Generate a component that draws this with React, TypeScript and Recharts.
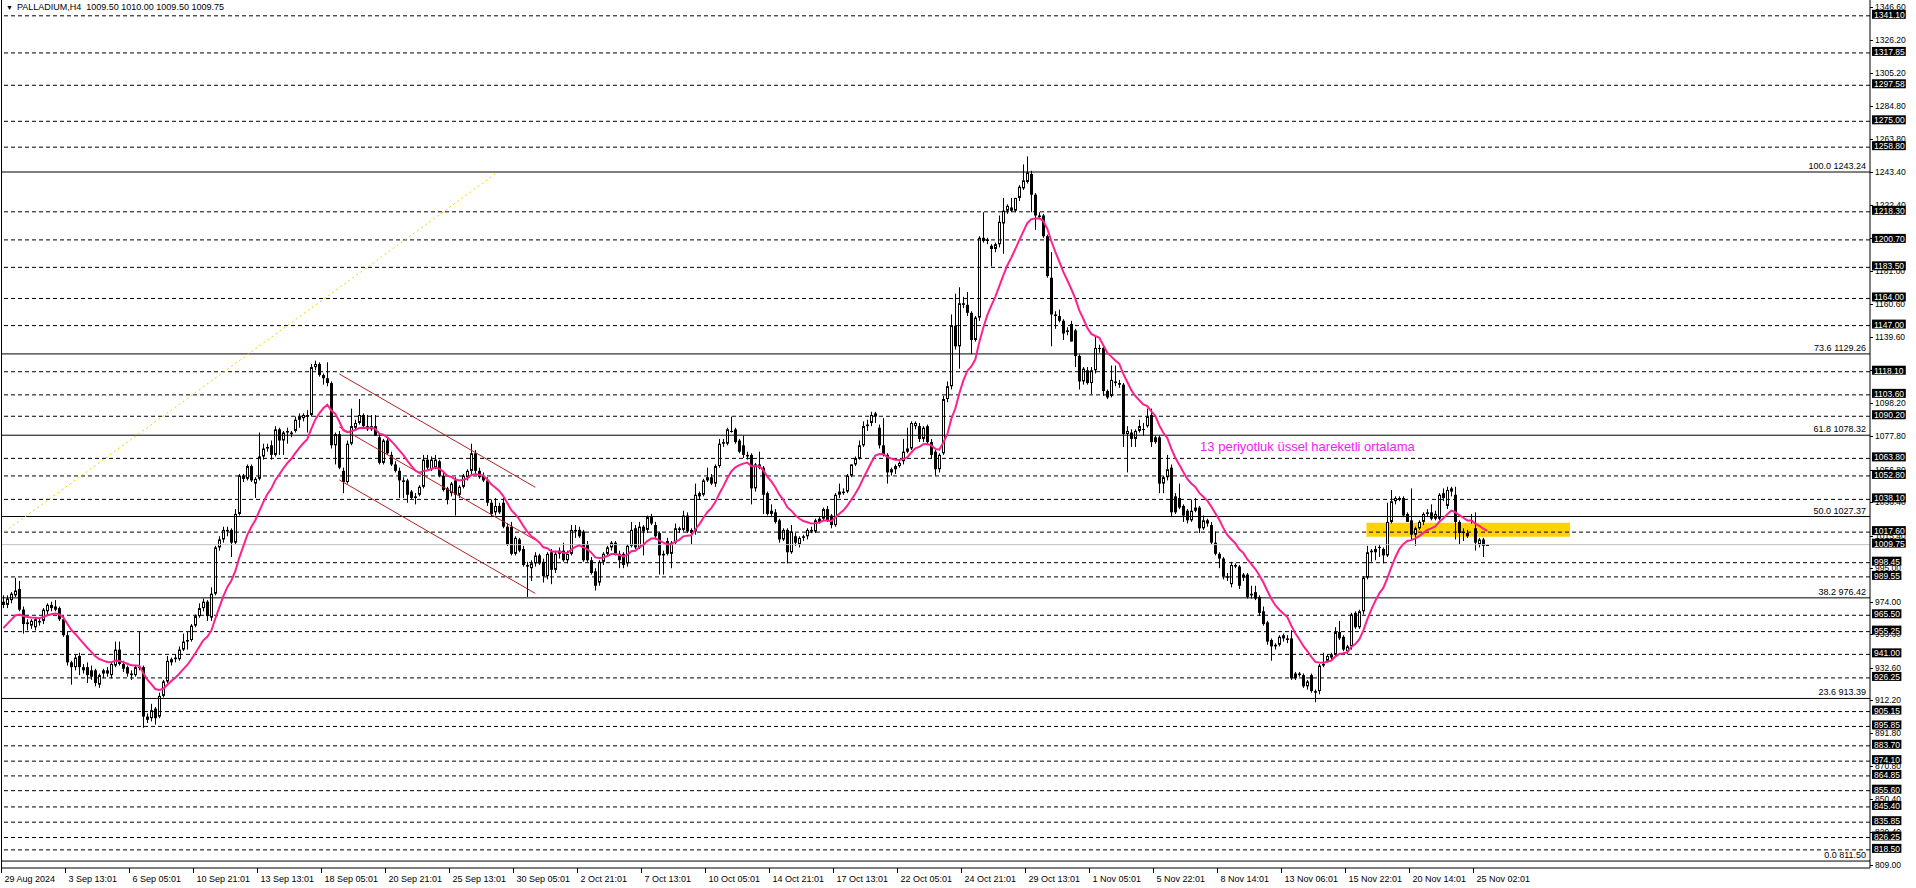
import {
  ComposedChart,
  Bar,
  Line,
  XAxis,
  YAxis,
  ReferenceLine,
  ReferenceArea,
  ReferenceDot,
} from 'recharts';

type Candle = [number, number, number, number]; // open, high, low, close

// bars 0-94 (29 Aug - 20 Sep)
const barsAugSep: Candle[] = [
  [974, 978, 970, 972], [972, 978, 970, 976], [975, 980, 973, 979], [978, 989, 977, 981], [982, 987, 968, 969], [969, 971, 954, 960],
  [960, 963, 956, 961], [959, 963, 957, 962], [958, 964, 956, 963], [961, 964, 959, 962], [962, 970, 960, 969], [968, 973, 966, 972],
  [972, 974, 968, 970], [971, 975, 968, 969], [970, 971, 962, 963], [963, 965, 952, 953], [953, 955, 934, 936], [936, 937, 922, 933],
  [933, 941, 931, 939], [940, 942, 928, 933], [933, 935, 929, 931], [933, 936, 923, 928], [931, 934, 925, 927], [931, 932, 921, 923],
  [922, 929, 920, 928], [929, 932, 926, 931], [929, 933, 927, 931], [928, 936, 926, 935], [934, 949, 933, 944], [944, 949, 934, 935],
  [935, 937, 930, 932], [933, 934, 927, 929], [929, 931, 925, 928], [928, 934, 927, 933], [933, 955, 931, 933], [933, 934, 895, 902],
  [902, 904, 898, 900], [901, 910, 899, 906], [907, 908, 897, 901], [902, 917, 901, 915], [915, 925, 914, 924], [924, 940, 923, 937],
  [936, 939, 934, 938], [938, 941, 936, 939], [938, 946, 937, 944], [944, 954, 943, 949], [949, 955, 944, 950], [950, 960, 949, 959],
  [959, 966, 958, 965], [965, 973, 964, 970], [970, 976, 968, 974], [974, 975, 962, 965], [964, 983, 962, 979], [979, 1009, 978, 1008],
  [1008, 1015, 1006, 1013], [1013, 1021, 1011, 1019], [1019, 1021, 1015, 1018], [1019, 1020, 1002, 1011], [1011, 1032, 1010, 1029], [1029, 1054, 1028, 1053],
  [1053, 1054, 1049, 1051], [1051, 1060, 1050, 1059], [1059, 1060, 1049, 1050], [1048, 1052, 1039, 1051], [1051, 1080, 1050, 1065], [1065, 1073, 1063, 1070],
  [1070, 1073, 1068, 1071], [1072, 1075, 1063, 1066], [1066, 1084, 1065, 1082], [1082, 1083, 1066, 1075], [1075, 1081, 1066, 1080], [1080, 1083, 1073, 1081],
  [1079, 1081, 1077, 1080], [1081, 1090, 1080, 1088], [1088, 1092, 1083, 1090], [1089, 1092, 1087, 1091], [1090, 1094, 1080, 1091], [1091, 1123, 1090, 1121],
  [1121, 1125, 1119, 1123], [1123, 1124, 1115, 1116], [1116, 1117, 1110, 1114], [1114, 1124, 1109, 1111], [1111, 1112, 1070, 1072], [1072, 1080, 1060, 1079],
  [1079, 1081, 1057, 1058], [1056, 1058, 1042, 1049], [1049, 1075, 1048, 1073], [1073, 1095, 1072, 1084], [1083, 1088, 1082, 1086], [1086, 1101, 1085, 1091],
  [1091, 1092, 1083, 1084], [1084, 1091, 1081, 1082], [1082, 1091, 1081, 1084], [1084, 1091, 1078, 1078], [1077, 1079, 1060, 1061],
];

// bars 95-186 (20 Sep - 23 Oct)
const barsSepOct: Candle[] = [
  [1061, 1076, 1060, 1075], [1075, 1077, 1066, 1067], [1066, 1068, 1059, 1060], [1060, 1062, 1055, 1056], [1056, 1058, 1039, 1050], [1050, 1052, 1039, 1049],
  [1050, 1051, 1036, 1041], [1043, 1044, 1038, 1039], [1040, 1042, 1035, 1039], [1041, 1047, 1040, 1046], [1046, 1066, 1045, 1063], [1063, 1066, 1056, 1058],
  [1057, 1065, 1056, 1063], [1058, 1066, 1057, 1063], [1062, 1063, 1052, 1053], [1053, 1055, 1043, 1044], [1045, 1046, 1035, 1038], [1042, 1049, 1040, 1048],
  [1050, 1052, 1028, 1041], [1041, 1047, 1039, 1046], [1046, 1054, 1045, 1053], [1052, 1057, 1050, 1056], [1056, 1073, 1054, 1067], [1067, 1069, 1054, 1056],
  [1056, 1058, 1051, 1052], [1053, 1055, 1049, 1050], [1050, 1052, 1034, 1036], [1036, 1038, 1027, 1029], [1030, 1039, 1028, 1034], [1034, 1036, 1029, 1030],
  [1036, 1039, 1020, 1021], [1021, 1023, 1009, 1010], [1021, 1024, 1003, 1004], [1004, 1015, 1003, 1014], [1013, 1014, 1005, 1006], [1007, 1009, 996, 997],
  [997, 999, 977, 996], [995, 1000, 987, 998], [998, 1005, 996, 1003], [1003, 1004, 997, 998], [999, 1001, 986, 990], [990, 1005, 988, 1004],
  [1005, 1007, 985, 994], [994, 1006, 992, 1004], [1004, 1008, 1001, 1006], [1006, 1011, 999, 1000], [1000, 1006, 998, 1004], [1004, 1022, 1003, 1019],
  [1018, 1022, 1014, 1019], [1019, 1021, 1014, 1015], [1018, 1019, 999, 1000], [1010, 1012, 999, 1000], [1000, 1002, 991, 992], [993, 995, 981, 984],
  [986, 1000, 984, 999], [999, 1005, 997, 1004], [1004, 1009, 1002, 1008], [1008, 1012, 1006, 1011], [1011, 1012, 1003, 1004], [1004, 1006, 995, 1000],
  [1004, 1005, 995, 997], [998, 1010, 996, 1009], [1009, 1024, 1008, 1019], [1020, 1022, 1007, 1008], [1008, 1024, 1007, 1021], [1021, 1022, 1003, 1018],
  [1019, 1028, 1017, 1027], [1027, 1029, 1022, 1023], [1022, 1024, 1013, 1015], [1017, 1018, 991, 1003], [1003, 1006, 991, 1004], [1012, 1014, 1003, 1004],
  [1004, 1012, 995, 1011], [1011, 1023, 1010, 1020], [1019, 1021, 1017, 1020], [1019, 1031, 1018, 1028], [1028, 1030, 1017, 1018], [1019, 1020, 1010, 1017],
  [1018, 1048, 1016, 1041], [1040, 1043, 1038, 1042], [1041, 1051, 1040, 1050], [1050, 1058, 1049, 1052], [1052, 1054, 1047, 1048], [1048, 1060, 1046, 1059],
  [1059, 1076, 1058, 1073], [1073, 1076, 1071, 1074], [1073, 1083, 1072, 1082], [1081, 1090, 1080, 1081], [1082, 1083, 1073, 1074], [1075, 1076, 1067, 1068],
  [1072, 1078, 1064, 1066], [1066, 1068, 1063, 1065],
];

// bars 187-281 (23 Oct - 4 Nov)
const barsOctNov: Candle[] = [
  [1066, 1067, 1035, 1045], [1045, 1061, 1043, 1060], [1060, 1068, 1057, 1058], [1058, 1059, 1029, 1041], [1042, 1043, 1028, 1029], [1029, 1035, 1027, 1031],
  [1030, 1032, 1023, 1024], [1025, 1026, 1011, 1013], [1013, 1020, 1012, 1019], [1019, 1020, 998, 1005], [1005, 1022, 1004, 1018], [1015, 1017, 1009, 1011],
  [1010, 1015, 1008, 1014], [1014, 1016, 1012, 1015], [1015, 1020, 1013, 1019], [1019, 1021, 1017, 1018], [1018, 1026, 1017, 1025], [1024, 1027, 1023, 1026],
  [1026, 1033, 1025, 1032], [1032, 1034, 1024, 1025], [1028, 1029, 1020, 1022], [1022, 1042, 1021, 1041], [1041, 1048, 1039, 1043], [1042, 1045, 1041, 1043],
  [1043, 1054, 1042, 1053], [1053, 1060, 1052, 1060], [1060, 1065, 1059, 1064], [1064, 1075, 1063, 1072], [1072, 1087, 1071, 1084], [1084, 1088, 1081, 1085],
  [1086, 1093, 1084, 1091], [1090, 1093, 1086, 1092], [1083, 1085, 1070, 1072], [1072, 1089, 1065, 1066], [1066, 1067, 1048, 1055], [1055, 1058, 1053, 1057],
  [1057, 1060, 1054, 1059], [1059, 1062, 1058, 1061], [1062, 1076, 1060, 1068], [1068, 1083, 1067, 1070], [1070, 1087, 1069, 1086], [1084, 1087, 1082, 1086],
  [1084, 1086, 1074, 1076], [1076, 1084, 1074, 1083], [1084, 1085, 1072, 1074], [1074, 1076, 1064, 1066], [1068, 1069, 1053, 1057], [1057, 1067, 1055, 1066],
  [1067, 1103, 1066, 1101], [1101, 1112, 1099, 1109], [1109, 1154, 1107, 1147], [1147, 1167, 1132, 1134], [1134, 1171, 1120, 1161], [1160, 1165, 1158, 1161],
  [1160, 1168, 1153, 1155], [1155, 1156, 1129, 1138], [1138, 1153, 1137, 1152], [1152, 1203, 1150, 1202], [1202, 1218, 1199, 1200], [1200, 1202, 1198, 1201],
  [1197, 1198, 1184, 1195], [1195, 1199, 1193, 1198], [1198, 1216, 1196, 1212], [1211, 1227, 1192, 1219], [1219, 1223, 1217, 1222], [1221, 1227, 1218, 1219],
  [1219, 1227, 1218, 1227], [1227, 1235, 1225, 1234], [1233, 1248, 1232, 1238], [1237, 1253, 1236, 1243], [1242, 1244, 1218, 1229], [1229, 1230, 1207, 1216],
  [1216, 1218, 1214, 1215], [1216, 1217, 1202, 1203], [1203, 1204, 1177, 1178], [1177, 1193, 1134, 1154], [1154, 1156, 1145, 1153], [1153, 1157, 1149, 1150],
  [1150, 1151, 1138, 1142], [1143, 1146, 1141, 1144], [1148, 1150, 1137, 1137], [1144, 1145, 1121, 1128], [1128, 1129, 1107, 1112], [1112, 1121, 1110, 1120],
  [1119, 1121, 1110, 1111], [1111, 1121, 1104, 1119], [1119, 1140, 1117, 1133], [1133, 1135, 1130, 1133], [1133, 1135, 1103, 1106], [1106, 1107, 1101, 1102],
  [1103, 1122, 1102, 1113], [1112, 1122, 1109, 1111], [1111, 1113, 1108, 1110], [1110, 1111, 1071, 1079], [1079, 1084, 1055, 1081],
];

// bars 282-371 (4 Nov - 25 Nov)
const barsNov: Candle[] = [
  [1080, 1082, 1071, 1076], [1076, 1082, 1071, 1081], [1081, 1088, 1080, 1084], [1082, 1086, 1078, 1082], [1084, 1095, 1083, 1090], [1091, 1095, 1071, 1074],
  [1077, 1078, 1073, 1074], [1077, 1078, 1042, 1048], [1048, 1053, 1042, 1052], [1052, 1066, 1050, 1057], [1058, 1060, 1027, 1030], [1040, 1042, 1029, 1030],
  [1039, 1048, 1032, 1033], [1034, 1035, 1024, 1028], [1031, 1032, 1023, 1025], [1025, 1038, 1024, 1031], [1031, 1039, 1030, 1033], [1033, 1034, 1017, 1020],
  [1020, 1028, 1019, 1025], [1025, 1026, 1021, 1023], [1022, 1024, 1010, 1011], [1011, 1018, 1003, 1004], [1004, 1005, 995, 1001], [1001, 1002, 988, 990],
  [990, 992, 987, 989], [985, 999, 983, 997], [997, 998, 995, 996], [996, 997, 982, 984], [989, 992, 987, 991], [991, 992, 976, 977],
  [978, 984, 976, 979], [980, 984, 975, 976], [977, 978, 965, 967], [968, 971, 959, 960], [961, 962, 947, 949], [950, 951, 937, 946],
  [946, 948, 944, 947], [947, 953, 946, 952], [951, 954, 949, 953], [950, 953, 948, 951], [951, 956, 925, 926], [929, 930, 925, 926],
  [929, 930, 927, 928], [928, 929, 920, 921], [921, 925, 919, 924], [928, 929, 917, 918], [918, 919, 911, 917], [918, 935, 916, 934],
  [934, 942, 933, 935], [937, 941, 936, 940], [939, 942, 937, 941], [941, 958, 940, 955], [955, 962, 950, 951], [952, 953, 943, 944],
  [943, 947, 941, 946], [946, 967, 944, 966], [967, 968, 957, 958], [958, 969, 957, 968], [968, 990, 966, 989], [989, 1009, 988, 1005],
  [1005, 1007, 999, 1006], [1005, 1009, 1000, 1007], [1008, 1010, 1002, 1008], [1007, 1008, 998, 1003], [1003, 1036, 1002, 1024], [1024, 1044, 1023, 1037],
  [1037, 1040, 1035, 1039], [1039, 1040, 1037, 1039], [1039, 1040, 1027, 1028], [1029, 1030, 1024, 1024], [1025, 1045, 1013, 1016], [1016, 1021, 1009, 1020],
  [1020, 1025, 1019, 1024], [1024, 1030, 1022, 1029], [1029, 1032, 1027, 1030], [1030, 1035, 1025, 1026], [1026, 1031, 1025, 1029], [1026, 1042, 1025, 1041],
  [1042, 1045, 1037, 1039], [1034, 1046, 1032, 1044], [1043, 1046, 1040, 1045], [1041, 1046, 1013, 1024], [1024, 1025, 1010, 1017], [1018, 1020, 1012, 1017],
  [1017, 1019, 1014, 1015], [1025, 1029, 1023, 1025], [1020, 1030, 1006, 1011], [1010, 1014, 1008, 1013], [1013, 1014, 1002, 1009], [1009.5, 1010, 1009.5, 1009.75],
];

const tickBars = [0, 16, 32, 48, 64, 80, 96, 112, 128, 144, 160, 176, 192, 208, 224, 240, 256, 272, 288, 304, 320, 336, 352, 368];
const timeLabels = [
  '29 Aug 2024', '3 Sep 13:01', '6 Sep 05:01', '10 Sep 21:01', '13 Sep 13:01', '18 Sep 05:01', '20 Sep 21:01', '25 Sep 13:01',
  '30 Sep 05:01', '2 Oct 21:01', '7 Oct 13:01', '10 Oct 05:01', '14 Oct 21:01', '17 Oct 13:01', '22 Oct 05:01', '24 Oct 21:01',
  '29 Oct 13:01', '1 Nov 05:01', '5 Nov 22:01', '8 Nov 14:01', '13 Nov 06:01', '15 Nov 22:01', '20 Nov 14:01', '25 Nov 02:01',
];

const priceTicks = [
  1346.6, 1326.2, 1305.2, 1284.8, 1263.8, 1243.4, 1222.4, 1202.0, 1181.0, 1160.6, 1139.6, 1119.2, 1098.2, 1077.8,
  1056.8, 1036.4, 1015.4, 995.0, 974.0, 953.6, 932.6, 912.2, 891.8, 870.8, 850.4, 829.4, 809.0,
];

// dashed horizontal levels
const levelLines = [
  1341.1, 1317.85, 1297.58, 1275.0, 1258.8, 1218.3, 1200.7, 1183.5, 1164.0, 1147.0, 1118.1, 1103.6, 1090.2, 1063.8,
  1052.8, 1038.1, 1017.6, 998.45, 989.55, 965.5, 955.25, 941.0, 926.25, 905.15, 895.85, 883.7, 874.1, 864.85,
  855.6, 845.4, 835.85, 826.25, 818.5,
];

const fibRatios = ['100.0', '73.6', '61.8', '50.0', '38.2', '23.6', '0.0'];
const fibPrices = [1243.24, 1129.26, 1078.32, 1027.37, 976.42, 913.39, 811.5];

const currentPrice = 1009.75;
const headerText = 'PALLADIUM,H4  1009.50 1010.00 1009.50 1009.75';
const emaPeriod = 13;
const emaSeed = 955;
const noteText = '13 periyotluk üssel hareketli ortalama';
const noteAt = { bar: 299.2, price: 1068.4 };

const trendFrom = { x: 0.4, y: 1018 };
const trendTo = { x: 123, y: 1242 };
const channelBars = [84, 133];
const channelUpper = [1116.7, 1045.7];
const channelMid = [1083.5, 1012.7];
const channelLower = [1050.3, 979.2];
const zoneBars = [340.8, 391.7];
const zonePrices = [1014.7, 1023.5];

const candles: Candle[] = [...barsAugSep, ...barsSepOct, ...barsOctNov, ...barsNov];
const alpha = 2 / (emaPeriod + 1);
let ema = emaSeed;
const data = candles.map(([o, h, l, c], i) => {
  ema = ema + (c - ema) * alpha;
  return { i, o, h, l, c, range: [l, h], ema };
});

// plain scale ticks first, boxed line prices after so the boxes paint on top
const boxedPrices = [...levelLines, currentPrice];
const axisTicks = [...priceTicks, ...boxedPrices];

const FONT = '"Liberation Sans", Arial, sans-serif';

function CandleShape(props: any) {
  const { x, y, width, height, payload } = props;
  if (!payload) return null;
  const { o, h, l, c } = payload;
  const top = Math.min(y, y + height);
  const span = Math.abs(height);
  const k = h > l ? span / (h - l) : 0;
  const py = (p: number) => top + (h - p) * k;
  const cx = Math.round(x + width / 2);
  const wx = cx + 0.5;
  const yo = py(o);
  const yc = py(c);
  let body;
  if (Math.abs(yo - yc) < 1) {
    const yy = Math.round(yc) + 0.5;
    body = <line x1={cx - 1} x2={cx + 2} y1={yy} y2={yy} stroke="#000" strokeWidth={1} />;
  } else if (c < o) {
    body = <rect x={cx - 1} y={yo} width={3} height={yc - yo} fill="#000" />;
  } else {
    body = <rect x={cx - 0.5} y={yc + 0.5} width={2} height={Math.max(0, yo - yc - 1)} fill="#fff" stroke="#000" strokeWidth={1} />;
  }
  return (
    <g>
      <line x1={wx} x2={wx} y1={top} y2={top + span} stroke="#000" strokeWidth={1} />
      {body}
    </g>
  );
}

function TimeTick(props: any) {
  const { x, y, payload } = props;
  const idx = tickBars.indexOf(payload.value);
  const tx = Math.round(x) - 1.5;
  return (
    <g>
      <line x1={tx} x2={tx} y1={y} y2={y + 5} stroke="#000" />
      <text x={tx + 3} y={y + 14} fontSize={9} fill="#000" fontFamily={FONT}>
        {timeLabels[idx] ?? ''}
      </text>
    </g>
  );
}

function PriceTick(props: any) {
  const { x, y, payload, index } = props;
  const v = Number(payload.value);
  const text = v.toFixed(2);
  if (index >= priceTicks.length) {
    const w = text.length * 4.4 + 3;
    return (
      <g>
        <rect x={x + 2} y={y - 6} width={w} height={9} fill="#000" />
        <text x={x + 4} y={y + 2} fontSize={8.5} fill="#fff" fontFamily={FONT}>
          {text}
        </text>
      </g>
    );
  }
  return (
    <g>
      <line x1={x} x2={x + 3} y1={Math.round(y) + 0.5} y2={Math.round(y) + 0.5} stroke="#000" />
      <text x={x + 5} y={y + 3} fontSize={8.5} fill="#000" fontFamily={FONT}>
        {text}
      </text>
    </g>
  );
}

function FibLabel(props: any) {
  const { viewBox, text } = props;
  if (!viewBox) return null;
  return (
    <text x={viewBox.x + viewBox.width - 4} y={viewBox.y - 3} fontSize={9} textAnchor="end" fill="#000" fontFamily={FONT}>
      {text}
    </text>
  );
}

function NoteLabel(props: any) {
  const { viewBox } = props;
  if (!viewBox) return null;
  return (
    <text x={viewBox.x + viewBox.width / 2} y={viewBox.y + viewBox.height / 2} fontSize={13} fill="#ee22ee" fontFamily={FONT}>
      {noteText}
    </text>
  );
}

export default function App() {
  return (
    <div style={{ position: 'fixed', left: 0, top: 0, width: 1916, height: 888, background: '#fff', fontFamily: FONT }}>
      <ComposedChart width={1916} height={888} data={data} margin={{ top: 0, right: 0, bottom: 0, left: 2 }}>
        <XAxis
          dataKey="i"
          type="number"
          scale="linear"
          domain={[-0.325, 466.675]}
          allowDataOverflow
          ticks={tickBars}
          interval={0}
          height={20}
          tickLine={false}
          tickSize={0}
          tickMargin={0}
          axisLine={{ stroke: '#000' }}
          tick={<TimeTick />}
        />
        <YAxis
          orientation="right"
          type="number"
          domain={[807.15, 1351.01]}
          allowDataOverflow
          ticks={axisTicks}
          interval={0}
          width={46}
          tickLine={false}
          tickSize={0}
          tickMargin={0}
          axisLine={{ stroke: '#000' }}
          tick={<PriceTick />}
        />
        <ReferenceArea
          x1={zoneBars[0]}
          x2={zoneBars[1]}
          y1={zonePrices[0]}
          y2={zonePrices[1]}
          fill="#ffd200"
          fillOpacity={1}
          stroke="none"
        />
        {levelLines.map((v) => (
          <ReferenceLine key={v} y={v} stroke="#000" strokeDasharray="4 3" />
        ))}
        {fibPrices.map((v, k) => (
          <ReferenceLine key={'f' + v} y={v} stroke="#000" label={<FibLabel text={`${fibRatios[k]} ${v.toFixed(2)}`} />} />
        ))}
        <ReferenceLine y={currentPrice} stroke="#c0c0c0" />
        <ReferenceLine segment={[trendFrom, trendTo]} stroke="#f2d000" strokeDasharray="2 3" />
        <ReferenceLine segment={[{ x: channelBars[0], y: channelUpper[0] }, { x: channelBars[1], y: channelUpper[1] }]} stroke="#b22222" />
        <ReferenceLine segment={[{ x: channelBars[0], y: channelMid[0] }, { x: channelBars[1], y: channelMid[1] }]} stroke="#b22222" />
        <ReferenceLine segment={[{ x: channelBars[0], y: channelLower[0] }, { x: channelBars[1], y: channelLower[1] }]} stroke="#b22222" />
        <Bar dataKey="range" barSize={3} shape={<CandleShape />} isAnimationActive={false} />
        <Line type="linear" dataKey="ema" stroke="#ff2090" strokeWidth={2} dot={false} activeDot={false} isAnimationActive={false} />
        <ReferenceDot x={noteAt.bar} y={noteAt.price} r={1} fill="none" stroke="none" label={<NoteLabel />} />
      </ComposedChart>
      <div style={{ position: 'absolute', left: 1, top: 0, width: 1, height: 868, background: '#000' }} />
      <div style={{ position: 'absolute', left: 6, top: 2, fontSize: 9, color: '#000', whiteSpace: 'pre', lineHeight: '11px' }}>
        <span style={{ fontSize: 7, marginRight: 4 }}>▼</span>
        {headerText}
      </div>
    </div>
  );
}
